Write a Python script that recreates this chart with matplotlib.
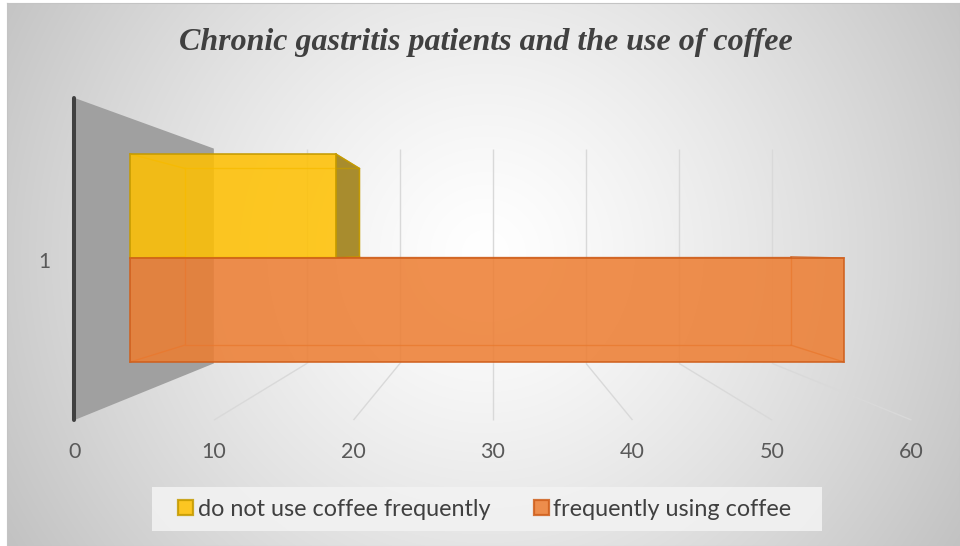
import numpy as np
import matplotlib
matplotlib.use("Agg")
import matplotlib.pyplot as plt
from matplotlib.patches import Polygon, Rectangle, Patch

plt.rcParams["font.serif"] = ["Liberation Serif", "DejaVu Serif"]

# ---- data -------------------------------------------------------------
title = "Chronic gastritis patients and the use of coffee"
categories = ["1"]
series = ["do not use coffee frequently", "frequently using coffee"]
values = [17, 59]
x_ticks = [0, 10, 20, 30, 40, 50, 60]

# ---- style ------------------------------------------------------------
face_colors = ["#FFC000", "#ED7D31"]
edge_colors = ["#C49A00", "#CF5F1C"]
side_colors = ["#9E7E12", "#C0601E"]
bar_alpha = 0.86
grid_color = "#D9D9D9"
text_color = "#595959"

W, H = 960, 546
fig = plt.figure(figsize=(W / 100, H / 100), dpi=100)
fig.patch.set_facecolor("white")

# radial gradient chart background
bg = fig.add_axes([7 / W, 0, 1 - 7 / W, 1 - 3 / H])
gy, gx = np.mgrid[0:543, 0:953]
dist = np.hypot(gx - 478, gy - 250) / 551.0
shade = (255 - 60 * np.clip(dist, 0, 1.2) ** 1.3) / 255.0
bg.imshow(np.dstack([shade] * 3), aspect="auto", interpolation="bilinear")
bg.set_xticks([])
bg.set_yticks([])
for s in bg.spines.values():
    s.set_color("#C4C4C4")
    s.set_linewidth(0.8)

# ---- perspective plot area --------------------------------------------
# data units: value along x, height along y, bar front plane at depth r=1
PX_PER_UNIT = 12.1
X0_PX = 130.0          # where value 0 of the bar front plane sits
EYE_Y_PX = 250.0       # horizon height
ax = fig.add_axes([0, 0, 1, 1])
ax.set_xlim(-X0_PX / PX_PER_UNIT, (W - X0_PX) / PX_PER_UNIT)
ax.set_ylim(-(H - EYE_Y_PX) / PX_PER_UNIT, EYE_Y_PX / PX_PER_UNIT)
ax.axis("off")
ax.patch.set_alpha(0)

v_center = x_ticks[-1] / 2.0       # vanishing point along the value axis
R_FRONT = 1.153                    # front edge of floor / side wall
R_BAR_BACK = 0.849                 # back face of the bars
R_WALL = 0.769                     # back wall
H_TOP = 10.9
H_FLOOR = -12.19
BAR_H = 8.6
CAT_H = -0.66                      # category centre height


def proj(v, h, r):
    return (v_center + (v - v_center) * r, h * r)


# side wall at value 0
wall = Polygon([proj(0, H_TOP, R_FRONT), proj(0, H_TOP, R_WALL),
                proj(0, H_FLOOR, R_WALL), proj(0, H_FLOOR, R_FRONT)],
               closed=True, facecolor="#A0A0A0", edgecolor="none", zorder=1)
ax.add_patch(wall)

# back wall and floor gridlines
for v in x_ticks[1:]:
    p0 = proj(v, H_FLOOR, R_WALL)
    p1 = proj(v, H_TOP, R_WALL)
    p2 = proj(v, H_FLOOR, R_FRONT)
    ax.plot([p0[0], p1[0]], [p0[1], p1[1]], color=grid_color, lw=1.0, zorder=2,
            solid_capstyle="butt")
    ax.plot([p0[0], p2[0]], [p0[1], p2[1]], color=grid_color, lw=1.0, zorder=2,
            solid_capstyle="butt")

# vertical axis line at the front edge of the side wall
a0 = proj(0, H_TOP, R_FRONT)
a1 = proj(0, H_FLOOR, R_FRONT)
ax.plot([a0[0], a1[0]], [a0[1], a1[1]], color="#404040", lw=2.9, zorder=3,
        solid_capstyle="round")

# bars (yellow above, orange below the category centre)
centers = [CAT_H + BAR_H / 2, CAT_H - BAR_H / 2]
for i, (val, yc) in enumerate(zip(values, centers)):
    top, bot = yc + BAR_H / 2, yc - BAR_H / 2
    # right end face, visible outside the front face only left of the vanishing point
    end = [proj(val, top, 1.0), proj(val, top, R_BAR_BACK),
           proj(val, bot, R_BAR_BACK), proj(val, bot, 1.0)]
    if val < v_center:
        ax.add_patch(Polygon(end, closed=True, facecolor=side_colors[i],
                             alpha=0.88, edgecolor=edge_colors[i], lw=1.0,
                             zorder=4))
    # back face outline and depth edges
    back = [proj(0, top, R_BAR_BACK), proj(val, top, R_BAR_BACK),
            proj(val, bot, R_BAR_BACK), proj(0, bot, R_BAR_BACK)]
    bx, by = zip(*(back + [back[0]]))
    ax.plot(bx, by, color=edge_colors[i], lw=1.0, alpha=0.75, zorder=4)
    for v, h in [(0, top), (val, top), (val, bot), (0, bot)]:
        f = proj(v, h, 1.0)
        b = proj(v, h, R_BAR_BACK)
        ax.plot([f[0], b[0]], [f[1], b[1]], color=edge_colors[i], lw=1.0,
                alpha=0.8, zorder=4)
    # front face
    ax.barh(yc, val, height=BAR_H, left=0, color=face_colors[i],
            alpha=bar_alpha, edgecolor=edge_colors[i], linewidth=1.3, zorder=5)

# category label
cat_pt = proj(0, CAT_H, R_FRONT)
ax.annotate(categories[0], xy=cat_pt, xytext=(-17, -2), textcoords="offset points",
            ha="right", va="center", fontsize=15, color=text_color,
            family="Lato", zorder=6)

# value axis labels along the front edge of the floor
to_fig = lambda p: fig.transFigure.inverted().transform(ax.transData.transform(p))
f0 = to_fig(proj(x_ticks[0], H_FLOOR, R_FRONT))
f1 = to_fig(proj(x_ticks[-1], H_FLOOR, R_FRONT))
tax = fig.add_axes([f0[0], f0[1], f1[0] - f0[0], 1e-4])
tax.set_xlim(x_ticks[0], x_ticks[-1])
tax.set_xticks(x_ticks)
tax.set_xticklabels([str(t) for t in x_ticks], family="Lato", fontsize=15.5,
                    color=text_color)
tax.set_yticks([])
tax.tick_params(axis="x", length=0, pad=16)
tax.patch.set_alpha(0)
for s in tax.spines.values():
    s.set_visible(False)

# title
fig.text(486 / W, 1 - 43 / H, title, ha="center", va="center",
         family="serif", weight="bold", style="italic",
         fontsize=23, color="#404040")

# legend
fig.patches.append(Rectangle((152 / W, 1 - 531 / H), 670 / W, 44 / H,
                             transform=fig.transFigure, facecolor="#F2F2F2",
                             edgecolor="none", alpha=0.9, zorder=0))
handles = [Patch(facecolor=face_colors[i], edgecolor=edge_colors[i],
                 alpha=bar_alpha, linewidth=1.6) for i in range(len(series))]
leg = fig.legend(handles, series, loc="center", bbox_to_anchor=(485 / W, 1 - 509 / H),
                 ncol=2, frameon=False, handlelength=0.62, handleheight=0.62,
                 handletextpad=0.2, columnspacing=1.9,
                 prop={"family": "Lato", "size": 16.8})
for t in leg.get_texts():
    t.set_color("#404040")

fig.savefig("out.png", dpi=100)
